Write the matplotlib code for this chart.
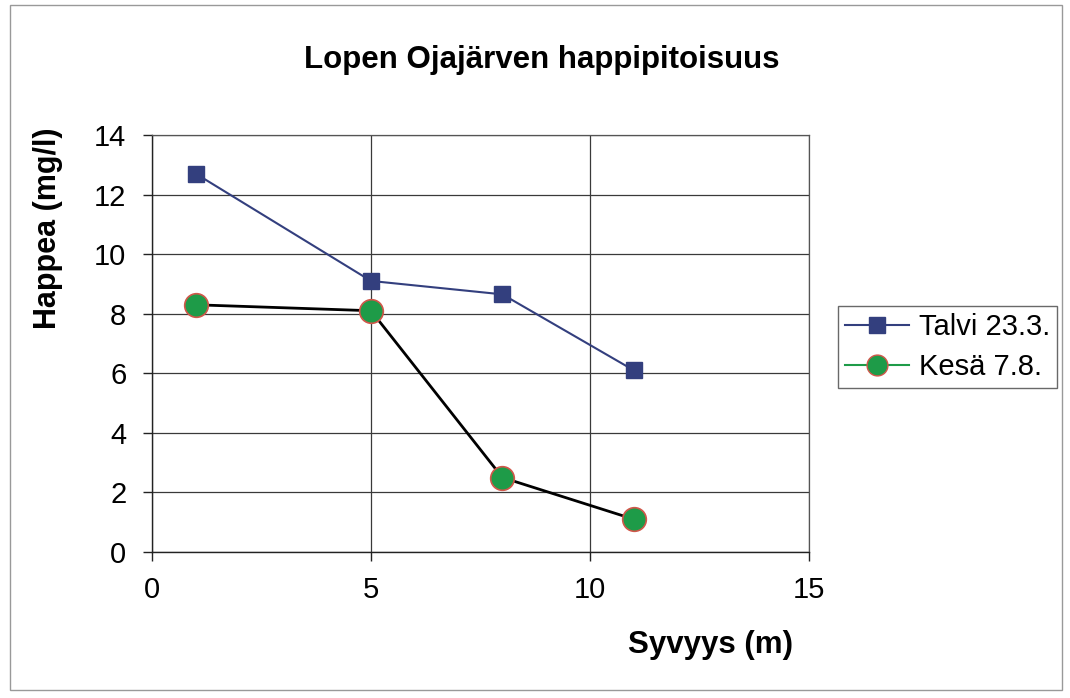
import matplotlib
matplotlib.use("Agg")
from matplotlib import pyplot as plt
from matplotlib.lines import Line2D
from matplotlib.patches import Rectangle

plt.rcParams['font.family'] = ['Liberation Sans', 'DejaVu Sans']

# data
depth = [1, 5, 8, 11]
talvi = [12.7, 9.1, 8.65, 6.1]
kesa = [8.3, 8.1, 2.5, 1.1]
series_names = ['Talvi 23.3.', 'Kesä 7.8.']

# colors
navy = '#333f7e'
green = '#1e9b48'
red_edge = '#d0574a'

W, H = 1070, 698
fig = plt.figure(figsize=(W / 100, H / 100), dpi=100)
ax = fig.add_axes([152 / W, 1 - 552 / H, (809 - 152) / W, (552 - 135) / H])

ax.plot(depth, talvi, color=navy, lw=1.5, marker='s', markersize=12,
        markerfacecolor=navy, markeredgecolor=navy, zorder=3, clip_on=False)
ax.plot(depth, kesa, color='black', lw=2, marker='o', markersize=17,
        markerfacecolor=green, markeredgecolor=red_edge, markeredgewidth=1.2,
        zorder=3, clip_on=False)

ax.set_xlim(0, 15)
ax.set_ylim(0, 14)
ax.set_xticks([0, 5, 10, 15])
ax.set_yticks(range(0, 15, 2))
ax.grid(True, color='#3a3a3a', lw=0.9)
ax.set_axisbelow(True)
for s in ['top', 'right']:
    ax.spines[s].set_color('#555555')
    ax.spines[s].set_linewidth(0.9)
for s in ['left', 'bottom']:
    ax.spines[s].set_color('#222222')
    ax.spines[s].set_linewidth(1.0)
ax.tick_params(axis='both', labelsize=21, length=6.5, width=1, color='#222222')
ax.tick_params(axis='y', pad=12)
ax.tick_params(axis='x', pad=11)

# texts
fig.text(542 / W, 1 - 60 / H, 'Lopen Ojajärven happipitoisuus', ha='center', va='center',
         fontsize=22.5, fontweight='bold')
fig.text(48 / W, 1 - 228 / H, 'Happea (mg/l)', ha='center', va='center', rotation=90,
         fontsize=22, fontweight='bold')
fig.text(710 / W, 1 - 645 / H, 'Syvyys (m)', ha='center', va='center',
         fontsize=22.5, fontweight='bold')

# legend
handles = [
    Line2D([], [], color=navy, lw=1.5, marker='s', markersize=12,
           markerfacecolor=navy, markeredgecolor=navy),
    Line2D([], [], color=green, lw=1.5, marker='o', markersize=15,
           markerfacecolor=green, markeredgecolor=red_edge),
]
leg = fig.legend(handles, series_names, loc='lower left',
                 bbox_to_anchor=(838 / W, 1 - 388 / H), fontsize=21,
                 frameon=True, fancybox=False, edgecolor='#444444',
                 handlelength=2.2, handletextpad=0.32, borderpad=0.25,
                 labelspacing=0.4, borderaxespad=0)
leg.get_frame().set_linewidth(1.0)

# outer chart border
fig.patches.append(Rectangle((10 / W, 1 - 690 / H), (1062 - 10) / W, (690 - 5) / H,
                             transform=fig.transFigure, fill=False,
                             edgecolor='#999999', lw=1.0))

fig.savefig('out.png', dpi=100)
